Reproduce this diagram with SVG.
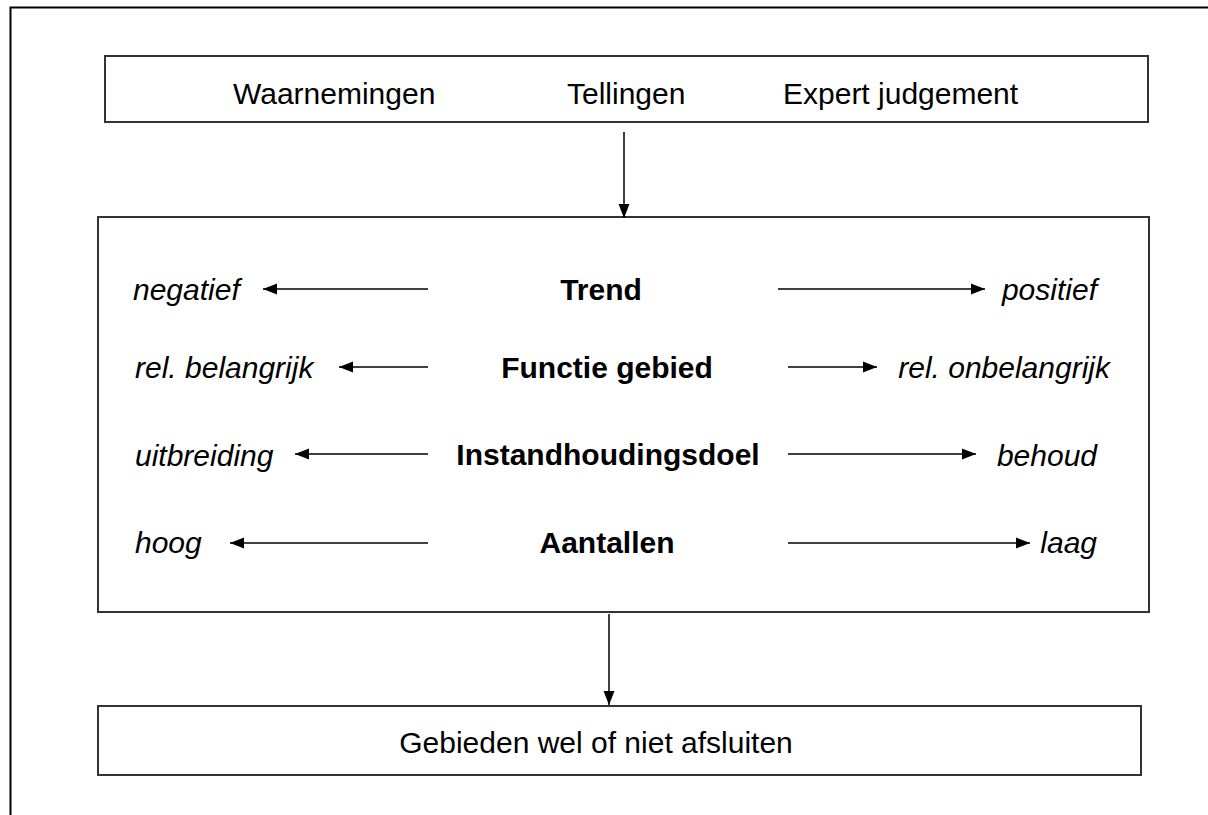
<svg xmlns="http://www.w3.org/2000/svg" width="1208" height="815" viewBox="0 0 1208 815">
<style>
.frame{fill:none;stroke:#000;stroke-width:2}
.box{fill:#fff;stroke:#333;stroke-width:2}
.t{font-family:"Liberation Sans",Arial,sans-serif;font-size:30px;fill:#000}
.b{font-weight:bold}
.i{font-style:italic}
.c{text-anchor:middle}
.e{text-anchor:end}
.ln{stroke:#000;stroke-width:1.5;fill:none}
</style>
<defs>
<marker id="ah" markerUnits="userSpaceOnUse" markerWidth="15" markerHeight="13" refX="14" refY="6.5" orient="auto">
<path d="M0,1 L14,6.5 L0,12 z" fill="#000"/>
</marker>
</defs>
<rect width="1208" height="815" fill="#fff"/>
<path class="frame" d="M10.5,815 V7.5 H1208"/>
<g id="bron">
<rect class="box" x="105" y="56" width="1043" height="66"/>
<text class="t" x="233" y="104">Waarnemingen</text>
<text class="t" x="567" y="104">Tellingen</text>
<text class="t" x="783" y="104">Expert judgement</text>
</g>
<g id="criteria">
<rect class="box" x="98" y="217" width="1051" height="395"/>
<text class="t b c" x="601" y="300">Trend</text>
<text class="t b c" x="607" y="378">Functie gebied</text>
<text class="t b c" x="608" y="465">Instandhoudingsdoel</text>
<text class="t b c" x="607" y="553">Aantallen</text>
<text class="t i" x="133" y="300">negatief</text>
<text class="t i" x="135" y="378">rel. belangrijk</text>
<text class="t i" x="135" y="466">uitbreiding</text>
<text class="t i" x="135" y="553">hoog</text>
<text class="t i e" x="1097" y="300">positief</text>
<text class="t i e" x="1110" y="378">rel. onbelangrijk</text>
<text class="t i e" x="1097" y="466">behoud</text>
<text class="t i e" x="1097" y="553">laag</text>
</g>
<g id="besluit">
<rect class="box" x="98" y="706" width="1043" height="69"/>
<text class="t c" x="596" y="753">Gebieden wel of niet afsluiten</text>
</g>
<g id="connectors">
<line class="ln" x1="624" y1="132" x2="624" y2="218" marker-end="url(#ah)"/>
<line class="ln" x1="609" y1="614" x2="609" y2="705" marker-end="url(#ah)"/>
<line class="ln" x1="428" y1="289" x2="263" y2="289" marker-end="url(#ah)"/>
<line class="ln" x1="778" y1="289" x2="985" y2="289" marker-end="url(#ah)"/>
<line class="ln" x1="428" y1="367" x2="339" y2="367" marker-end="url(#ah)"/>
<line class="ln" x1="788" y1="367" x2="877" y2="367" marker-end="url(#ah)"/>
<line class="ln" x1="428" y1="454" x2="295" y2="454" marker-end="url(#ah)"/>
<line class="ln" x1="788" y1="454" x2="976" y2="454" marker-end="url(#ah)"/>
<line class="ln" x1="428" y1="543" x2="230" y2="543" marker-end="url(#ah)"/>
<line class="ln" x1="788" y1="543" x2="1030" y2="543" marker-end="url(#ah)"/>
</g>
</svg>
